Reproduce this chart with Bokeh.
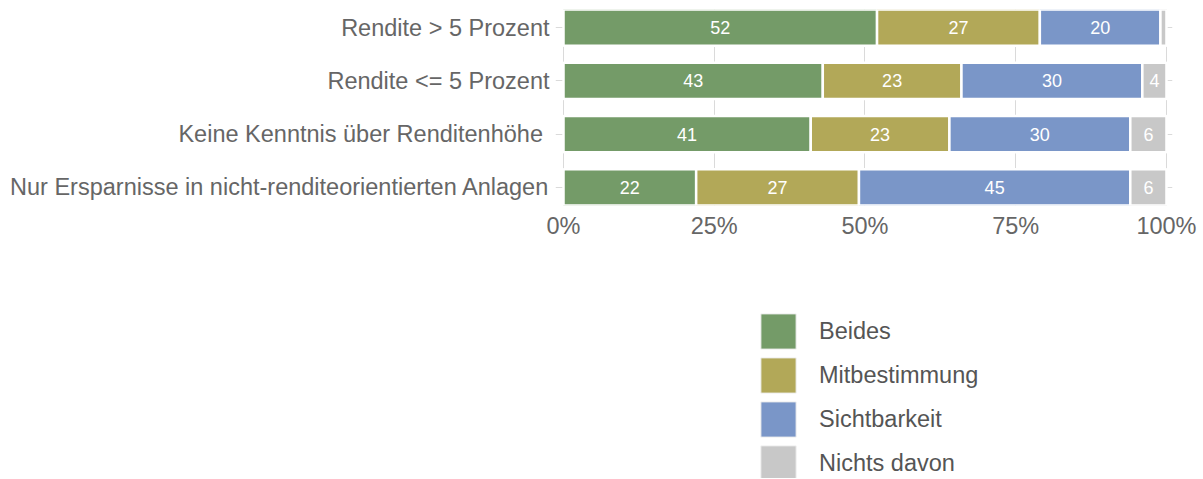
from bokeh.plotting import figure
from bokeh.layouts import column
from bokeh.models import ColumnDataSource, Range1d, FixedTicker, Legend, LegendItem
from bokeh.core.properties import value
from bokeh.embed import file_html
from bokeh.resources import INLINE

categories = ["Rendite > 5 Prozent", "Rendite <= 5 Prozent",
              "Keine Kenntnis über Renditenhöhe ",
              "Nur Ersparnisse in nicht-renditeorientierten Anlagen"]
series = ["Beides", "Mitbestimmung", "Sichtbarkeit", "Nichts davon"]
beides = [52, 43, 41, 22]
mitbestimmung = [27, 23, 23, 27]
sichtbarkeit = [20, 30, 30, 45]
nichts = [1, 4, 6, 6]
colors = ["#749B68", "#B2A858", "#7A96C8", "#C8C8C8"]
x_ticks = [0, 25, 50, 75, 100]

FONT = "Liberation Sans"
TOTAL_W = 1200
MAIN_H = 260
LEG_H = 218
BORDER_L = 555
BORDER_R = 28

n = len(categories)
ypos = [n - 1 - i for i in range(n)]
values = [beides, mitbestimmung, sichtbarkeit, nichts]

data = {"y": ypos}
for s, v in zip(series, values):
    data[s] = v
source = ColumnDataSource(data)

p = figure(width=TOTAL_W, height=MAIN_H, output_backend="svg", toolbar_location=None,
           x_range=Range1d(-1.33, 101.0), y_range=Range1d(-0.34, n - 1 + 0.34),
           min_border_left=BORDER_L, min_border_right=BORDER_R, min_border_top=9,
           min_border_bottom=55)
p.outline_line_color = None
p.background_fill_color = "white"

renderers = p.hbar_stack(series, y="y", height=0.684, color=colors, source=source,
                         line_color="white", line_width=2.5)

# labels inside the segments
lx, ly, lt = [], [], []
for i in range(n):
    left = 0
    for v in values:
        val = v[i]
        if val >= 2:
            lx.append(left + val / 2)
            ly.append(ypos[i])
            lt.append(str(val))
        left += val
p.text(x=lx, y=ly, text=lt, text_align="center", text_baseline="middle",
       text_color="white", text_font=value(FONT), text_font_size="18px")

# axes
p.xaxis.ticker = FixedTicker(ticks=x_ticks)
p.xaxis.major_label_overrides = {t: f"{t}%" for t in x_ticks}
p.yaxis.ticker = FixedTicker(ticks=ypos)
p.yaxis.major_label_overrides = {ypos[i]: categories[i] for i in range(n)}
for ax in (p.xaxis[0], p.yaxis[0]):
    ax.axis_line_color = None
    ax.major_tick_line_color = None
    ax.minor_tick_line_color = None
    ax.major_tick_out = 0
    ax.major_tick_in = 0
    ax.major_label_text_font = FONT
    ax.major_label_text_font_size = "23.5px"
    ax.major_label_text_color = "#666666"
p.xaxis.major_label_standoff = 7
p.yaxis.major_label_standoff = 6

p.xgrid.ticker = FixedTicker(ticks=x_ticks)
p.xgrid.grid_line_color = "#DADADA"
p.ygrid.ticker = FixedTicker(ticks=ypos)
p.ygrid.grid_line_color = "#DADADA"

# legend figure, same side borders as the main chart
pl = figure(width=TOTAL_W, height=LEG_H, output_backend="svg", toolbar_location=None,
            x_range=Range1d(0, 1), y_range=Range1d(0, 1),
            min_border_left=BORDER_L, min_border_right=BORDER_R,
            min_border_top=0, min_border_bottom=0)
pl.axis.visible = False
pl.grid.visible = False
pl.outline_line_color = None
leg_renderers = [pl.hbar(y=[-10], left=[0], right=[1], height=0.5, color=c,
                         line_color="#EEEEEE", line_width=1)
                 for c in colors]
legend = Legend(items=[LegendItem(label=s, renderers=[r]) for s, r in zip(series, leg_renderers)],
                location=(201, -7), glyph_width=44, glyph_height=44, spacing=-2,
                label_standoff=19, padding=0, margin=0,
                border_line_alpha=0, background_fill_alpha=0,
                label_text_font=FONT, label_text_font_size="23.5px",
                label_text_color="#555555")
pl.add_layout(legend, "center")

layout = column(p, pl, spacing=0)
open("out.html", "w").write(file_html(layout, INLINE))
